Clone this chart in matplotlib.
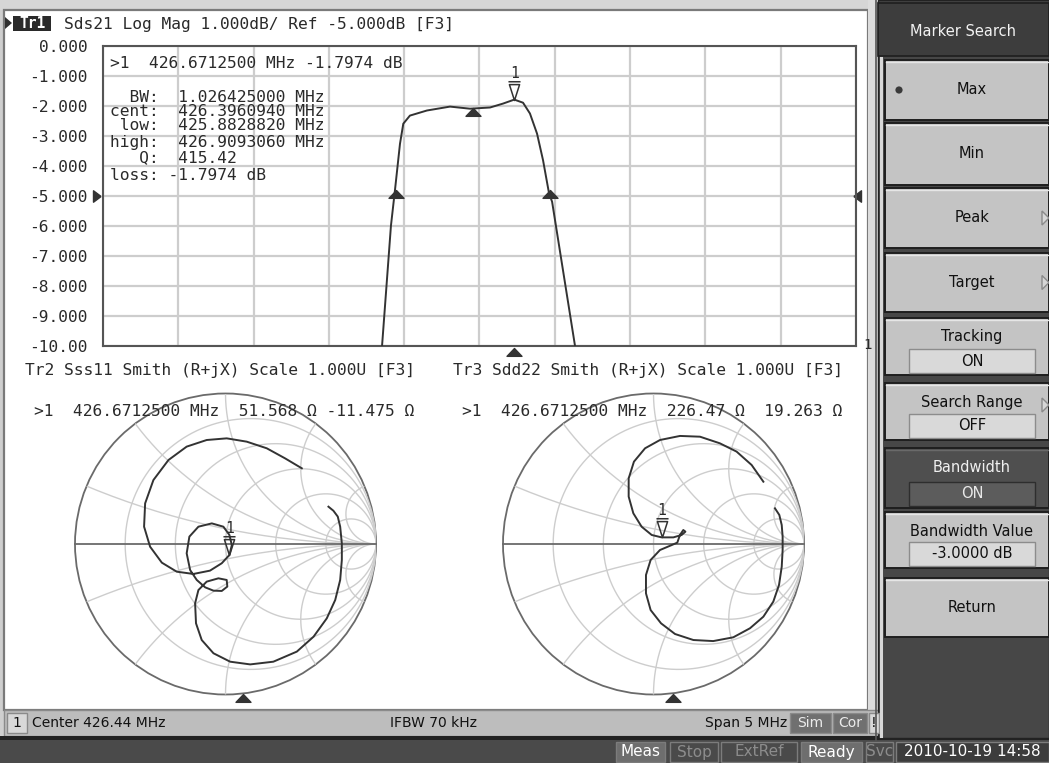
import numpy as np
import matplotlib
matplotlib.use("Agg")
import matplotlib.pyplot as plt
from matplotlib.patches import Rectangle, Circle, Polygon
from matplotlib.path import Path
from matplotlib import transforms

# ---------------- data ----------------
center_mhz = 426.44
span_mhz = 5.0
freq_mhz = [425.793, 425.852, 425.879, 425.912, 425.934, 425.978, 426.091, 426.244, 426.377,
            426.510, 426.596, 426.671, 426.729, 426.775, 426.822, 426.862, 426.902, 426.922, 427.074]
s21_db = [-10.0, -6.0, -4.8, -3.27, -2.6, -2.33, -2.16, -2.03, -2.10,
          -2.06, -1.93, -1.797, -1.90, -2.26, -2.93, -3.82, -4.93, -5.20, -10.0]
ytick_values = [0, -1, -2, -3, -4, -5, -6, -7, -8, -9, -10]
ytick_labels = ['0.000', '-1.000', '-2.000', '-3.000', '-4.000', '-5.000',
                '-6.000', '-7.000', '-8.000', '-9.000', '-10.00']
ref_level_db = -5.0

marker_freq = 426.67125
marker_db = -1.7974
bw_low_freq = 425.882882
bw_high_freq = 426.909306
bw_center_freq = 426.396094
bw_level_db = -4.7974
bw_center_db = -2.09

# Sss11 reflection trace (Gamma real / imag)
s11_re = [0.684, 0.717, 0.746, 0.762, 0.773, 0.773, 0.762, 0.729, 0.673, 0.585, 0.474, 0.318,
          0.164, 0.031, -0.080, -0.158, -0.196, -0.202, -0.180, -0.125, -0.047, 0.008, 0.012,
          -0.025, -0.080, -0.135, -0.191, -0.235, -0.258, -0.240, -0.180, -0.091, -0.014, 0.026,
          0.042, 0.026, -0.025, -0.103, -0.213, -0.324, -0.423, -0.501, -0.541, -0.534, -0.479,
          -0.379, -0.258, -0.125, 0.008, 0.141, 0.274, 0.396, 0.507]
s11_im = [0.248, 0.221, 0.182, 0.115, 0.004, -0.106, -0.239, -0.372, -0.494, -0.616, -0.715,
          -0.782, -0.800, -0.782, -0.726, -0.638, -0.527, -0.394, -0.306, -0.250, -0.228, -0.239,
          -0.283, -0.312, -0.310, -0.288, -0.239, -0.173, -0.062, 0.049, 0.115, 0.137, 0.115,
          0.060, -0.007, -0.073, -0.128, -0.177, -0.199, -0.184, -0.124, -0.018, 0.115, 0.270,
          0.425, 0.558, 0.647, 0.691, 0.702, 0.680, 0.636, 0.569, 0.503]
# Sdd22 reflection trace
s22_re = [0.807, 0.836, 0.852, 0.858, 0.858, 0.852, 0.834, 0.796, 0.730, 0.641, 0.530, 0.397,
          0.265, 0.143, 0.050, -0.019, -0.050, -0.050, -0.019, 0.043, 0.121, 0.158, 0.176, 0.198,
          0.212, 0.187, 0.132, 0.054, -0.012, -0.079, -0.134, -0.165, -0.165, -0.130, -0.056,
          0.043, 0.176, 0.309, 0.441, 0.552, 0.652, 0.730]
s22_im = [0.237, 0.193, 0.126, 0.049, -0.040, -0.151, -0.272, -0.383, -0.483, -0.560, -0.620,
          -0.645, -0.638, -0.598, -0.527, -0.439, -0.328, -0.206, -0.106, -0.040, -0.007, 0.009,
          0.060, 0.093, 0.082, 0.060, 0.044, 0.044, 0.060, 0.115, 0.204, 0.315, 0.436, 0.547,
          0.636, 0.691, 0.718, 0.713, 0.669, 0.614, 0.525, 0.414]
s11_marker = (0.026, -0.073)
s22_marker = (0.054, 0.044)

smith_r = [0.2, 0.5, 1, 2, 5]
smith_x = [0.2, 0.5, 1, 2, 5]

title_tr1 = 'Sds21 Log Mag 1.000dB/ Ref -5.000dB [F3]'
title_tr2 = 'Tr2 Sss11 Smith (R+jX) Scale 1.000U [F3]'
title_tr3 = 'Tr3 Sdd22 Smith (R+jX) Scale 1.000U [F3]'
readout_tr1 = '>1  426.6712500 MHz -1.7974 dB'
readout_tr2 = '>1  426.6712500 MHz  51.568 \u03a9 -11.475 \u03a9'
readout_tr3 = '>1  426.6712500 MHz  226.47 \u03a9  19.263 \u03a9'
bw_lines = ['  BW:  1.026425000 MHz', 'cent:  426.3960940 MHz', ' low:  425.8828820 MHz',
            'high:  426.9093060 MHz', '   Q:  415.42', 'loss: -1.7974 dB']

softkeys = ['Max', 'Min', 'Peak', 'Target', 'Tracking', 'Search Range', 'Bandwidth',
            'Bandwidth Value', 'Return']
softkey_values = [None, None, None, None, 'ON', 'OFF', 'ON', '-3.0000 dB', None]
status_left = 'Center 426.44 MHz'
status_mid = 'IFBW 70 kHz'
status_right = 'Span 5 MHz'
bottom_items = ['Meas', 'Stop', 'ExtRef', 'Ready', 'Svc', '2010-10-19 14:58']

# ---------------- styles ----------------
W, H = 1049, 763
MONO = 'DejaVu Sans Mono'
SANS = 'DejaVu Sans'
TXT = '#2a2a2a'
TRACE = '#333333'
GRID = '#cdcdcd'
EDGE = '#6a6a6a'
MS = 11.7

fig = plt.figure(figsize=(W / 100, H / 100), dpi=100)
fig.patch.set_facecolor('#cfcfcf')


def px_axes(x0, y0, x1, y1):
    return fig.add_axes([x0 / W, 1 - y1 / H, (x1 - x0) / W, (y1 - y0) / H])


bg = px_axes(0, 0, W, H)
bg.set_xlim(0, W); bg.set_ylim(H, 0); bg.axis('off')

# main white panel
bg.add_patch(Rectangle((0, 0), 878, 10, fc='#d6d6d6', ec='none'))
bg.add_patch(Rectangle((4, 10), 864, 700, fc='white', ec='#7a7a7a', lw=1.6))
bg.add_patch(Rectangle((868, 0), 10, 740, fc='#dcdcdc', ec='none'))
bg.plot([876, 876], [0, 740], color='#555555', lw=1.2)
# status bar
bg.add_patch(Rectangle((4, 710), 876, 26, fc='#bdbdbd', ec='#8a8a8a', lw=1))
bg.add_patch(Rectangle((0, 736), W, 4, fc='#222222', ec='none'))
bg.add_patch(Rectangle((0, 740), W, 23, fc='#4a4a4a', ec='none'))
# right panel
bg.add_patch(Rectangle((878, 0), W - 878, 738, fc='#474747', ec='#222222', lw=1))
bg.add_patch(Rectangle((878, 3), W - 878, 53, fc='#3d3d3d', ec='#1e1e1e', lw=1.2))
bg.plot([880.5, 880.5], [58, 736], color='#d8d8d8', lw=2.2)

btn_rows = [(60, 120), (123, 185), (188, 248), (253, 312), (318, 375), (383, 440),
            (448, 508), (512, 568), (578, 637)]
for i, ((y0, y1), name, val) in enumerate(zip(btn_rows, softkeys, softkey_values)):
    dark = name == 'Bandwidth'
    fc = '#4f4f4f' if dark else '#c4c4c4'
    bg.add_patch(Rectangle((885, y0), W - 885, y1 - y0, fc=fc, ec='#1e1e1e', lw=1.4))
    bg.plot([886, W], [y0 + 1.5, y0 + 1.5], color='#6a6a6a' if dark else '#e6e6e6', lw=1)
    tc = '#f0f0f0' if dark else '#111111'
    if val is None:
        bg.text(972, (y0 + y1) / 2, name, fontsize=10.5, family=SANS, color=tc,
                ha='center', va='center')
    else:
        bg.text(972, y0 + 19, name, fontsize=10.5, family=SANS, color=tc,
                ha='center', va='center')
        bg.add_patch(Rectangle((909, y1 - 26), 126, 24, fc='#5c5c5c' if dark else '#d9d9d9',
                               ec='#2e2e2e' if dark else '#8c8c8c', lw=1))
        bg.text(972, y1 - 14, val, fontsize=10.5, family=SANS,
                color='#e8e8e8' if dark else '#111111', ha='center', va='center')
    if name in ('Peak', 'Target', 'Search Range'):
        yc = (y0 + y1) / 2 if val is None else y0 + 22
        bg.add_patch(Polygon([(1042, yc - 7), (1049, yc), (1042, yc + 7)], closed=True,
                             fc='#d6d6d6', ec='#8a8a8a', lw=1))
    if name == 'Max':
        bg.add_patch(Circle((899, (y0 + y1) / 2), 3.6, fc='#3a3a3a', ec='none'))
bg.text(963, 31, 'Marker Search', fontsize=10.5, family=SANS, color='#f2f2f2',
        ha='center', va='center')

# status bar content
bg.add_patch(Rectangle((7, 713), 20, 20, fc='#d8d8d8', ec='#8a8a8a', lw=1))
bg.text(17, 723, '1', fontsize=10, family=SANS, color='#111', ha='center', va='center')
bg.text(32, 723, status_left, fontsize=10, family=SANS, color='#111', va='center')
bg.text(434, 723, status_mid, fontsize=10, family=SANS, color='#111', ha='center', va='center')
bg.text(787, 723, status_right, fontsize=10, family=SANS, color='#111', ha='right', va='center')
for lab, x0, x1, fc, tc in [('Sim', 790, 831, '#707070', '#ececec'),
                            ('Cor', 833, 867, '#707070', '#ececec'),
                            ('!', 869, 879, '#d8d8d8', '#111')]:
    bg.add_patch(Rectangle((x0, 713), x1 - x0, 20, fc=fc, ec='#8a8a8a', lw=1))
    bg.text((x0 + x1) / 2, 723, lab, fontsize=10, family=SANS, color=tc, ha='center', va='center')

# bottom bar
bb_spans = [(616, 665), (670, 718), (721, 797), (801, 862), (866, 893), (896, 1049)]
bb_style = [('#6e6e6e', 'white'), ('#4a4a4a', '#8c8c8c'), ('#4a4a4a', '#8c8c8c'),
            ('#6e6e6e', 'white'), ('#4a4a4a', '#8c8c8c'), ('#3c3c3c', 'white')]
for lab, (x0, x1), (fc, tc) in zip(bottom_items, bb_spans, bb_style):
    bg.add_patch(Rectangle((x0, 742), x1 - x0, 20, fc=fc, ec='#7c7c7c', lw=1))
    bg.text((x0 + x1) / 2, 752, lab, fontsize=11, family=SANS, color=tc, ha='center', va='center')

# ---------------- Tr1 log-mag plot ----------------
ax = px_axes(103, 45.7, 856, 345.7)
f0 = center_mhz - span_mhz / 2
f1 = center_mhz + span_mhz / 2
ax.set_xlim(f0, f1)
ax.set_ylim(-10, 0)
ax.set_xticks(np.linspace(f0, f1, 11))
ax.set_xticklabels([])
ax.set_yticks(ytick_values)
ax.set_yticklabels(ytick_labels, family=MONO, fontsize=MS, color=TXT)
ax.tick_params(length=0, pad=10.8)
ax.grid(True, color=GRID, lw=1.6)
ax.set_axisbelow(True)
for sp in ax.spines.values():
    sp.set_color('#555555'); sp.set_linewidth(1.5)
ax.plot(freq_mhz, s21_db, color=TRACE, lw=1.4, zorder=3)

up_tri = Path([(0, 0), (-1, -1.05), (1, -1.05), (0, 0)],
              [Path.MOVETO, Path.LINETO, Path.LINETO, Path.CLOSEPOLY])
mk_path = Path([(0, 0), (-0.32, 1.0), (0.32, 1.0), (0, 0), (-0.38, 1.18), (0.38, 1.18)],
               [Path.MOVETO, Path.LINETO, Path.LINETO, Path.CLOSEPOLY, Path.MOVETO, Path.LINETO])

ax.plot([bw_low_freq, bw_high_freq], [bw_level_db, bw_level_db], ls='none', marker=up_tri,
        ms=11.3, color='#333333', zorder=4, clip_on=False)
ax.plot([bw_center_freq], [bw_center_db], ls='none', marker=up_tri, ms=11.3,
        color='#333333', zorder=4)
ax.plot([marker_freq], [marker_db], ls='none', marker=mk_path, ms=27, mfc='none',
        mec=TRACE, mew=1.1, zorder=5)
ax.annotate('1', (marker_freq, marker_db), xytext=(0, 19), textcoords='offset points',
            ha='center', va='center', family=MONO, fontsize=10.5, color=TXT)
off = transforms.offset_copy(ax.transData, fig=fig, x=0, y=-2.5, units='dots')
ax.plot([marker_freq], [-10], ls='none', marker=up_tri, ms=11.3, color='#333333',
        transform=off, clip_on=False)
ref_y = ax.transData.transform((f0, ref_level_db))
# reference level arrows
ax.plot([f0], [ref_level_db], ls='none', marker=Path([(1, 0), (0, 0.75), (0, -0.75), (1, 0)]),
        ms=11, color='#333333', clip_on=False,
        transform=transforms.offset_copy(ax.transData, fig=fig, x=-10, y=0, units='dots'))
ax.plot([f1], [ref_level_db], ls='none', marker=Path([(-1, 0), (0, 0.75), (0, -0.75), (-1, 0)]),
        ms=11, color='#333333', clip_on=False,
        transform=transforms.offset_copy(ax.transData, fig=fig, x=5, y=0, units='dots'))


# ---------------- Smith charts ----------------
def draw_smith(a, re, im, mk):
    a.set_xlim(-1, 1); a.set_ylim(-1, 1); a.axis('off')
    unit = Circle((0, 0), 1, transform=a.transData)
    th = np.linspace(0, 2 * np.pi, 900)
    for r in smith_r:
        c, rad = r / (1 + r), 1 / (1 + r)
        a.plot(c + rad * np.cos(th), rad * np.sin(th), color=GRID, lw=1.0)
    for x in smith_x:
        for s in (1, -1):
            rad = 1 / x
            ln, = a.plot(1 + rad * np.cos(th), s * rad + rad * np.sin(th), color=GRID, lw=1.0)
            ln.set_clip_path(unit)
    a.add_patch(Circle((0, 0), 1, fc='none', ec=EDGE, lw=1.3, clip_on=False))
    a.plot([-1, 1], [0, 0], color=EDGE, lw=1.3, clip_on=False)
    a.plot(re, im, color=TRACE, lw=1.4, clip_on=False)
    a.plot([mk[0]], [mk[1]], ls='none', marker=mk_path, ms=27, mfc='none', mec=TRACE, mew=1.1)
    a.annotate('1', mk, xytext=(0, 19), textcoords='offset points', ha='center', va='center',
               family=MONO, fontsize=10.5, color=TXT)


s1 = px_axes(75, 393.5, 376, 694.5)
draw_smith(s1, s11_re, s11_im, s11_marker)
s2 = px_axes(503, 393.5, 804, 694.5)
draw_smith(s2, s22_re, s22_im, s22_marker)

# ---------------- overlay text ----------------
ov = px_axes(0, 0, W, H)
ov.set_xlim(0, W); ov.set_ylim(H, 0); ov.axis('off')


def txt(x, y, s, **kw):
    d = dict(fontsize=MS, family=MONO, color=TXT, va='center', ha='left')
    d.update(kw)
    return ov.text(x, y, s, **d)


ov.add_patch(Polygon([(5, 17), (12, 23), (5, 29)], closed=True, fc='#303030', ec='none'))
ov.add_patch(Rectangle((13, 16), 38, 15, fc='#2a2a2a', ec='none'))
txt(32, 23.5, 'Tr1', color='white', ha='center', fontsize=10.5, weight='bold')
txt(64, 24, title_tr1)
txt(110, 63, readout_tr1)
for yy, line in zip([96, 110, 125, 141, 157, 175], bw_lines):
    txt(110, yy + 1, line)
txt(863, 345, '1', fontsize=10)
txt(25, 371, title_tr2)
txt(453, 371, title_tr3)
t2 = txt(34, 411, readout_tr2)
clip = Rectangle((0, 0), 406, H, transform=ov.transData)
t2.set_clip_path(clip)
txt(462, 411, readout_tr3)

# marker stimulus indicators below the Smith charts (half-panel width)
frac = (marker_freq - f0) / span_mhz
for x0, x1 in [(8, 438), (438, 868)]:
    ov.plot([x0 + frac * (x1 - x0)], [694], ls='none', marker=up_tri, ms=11.3, color='#333333')

fig.savefig('out.png', dpi=100, facecolor=fig.get_facecolor())
